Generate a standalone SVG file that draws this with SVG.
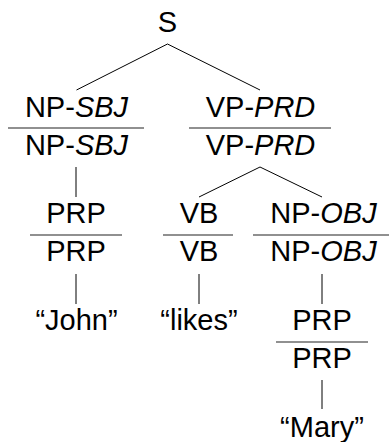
<svg xmlns="http://www.w3.org/2000/svg" width="389" height="442" viewBox="0 0 389 442">
  <style>
    text { font-family: "Liberation Sans", Arial, Helvetica, sans-serif; font-size: 29px; fill: #000; text-anchor: middle; }
    .i { font-style: italic; }
    line { stroke: #000; stroke-width: 1; }
    .bar { stroke: #222; stroke-width: 1.2; }
  </style>
  <rect width="389" height="442" fill="#fff"/>
  <g id="connectors">
    <line x1="167.5" y1="44" x2="76.5" y2="90"/>
    <line x1="167.5" y1="44" x2="260" y2="90"/>
    <line x1="76" y1="167" x2="76" y2="197"/>
    <line x1="260" y1="167" x2="199" y2="197"/>
    <line x1="260" y1="167" x2="322" y2="197"/>
    <line x1="76" y1="274" x2="76" y2="304"/>
    <line x1="199" y1="274" x2="199" y2="304"/>
    <line x1="322" y1="274" x2="322" y2="304"/>
    <line x1="322" y1="380" x2="322" y2="409"/>
  </g>
  <g id="S">
    <text x="167.5" y="31.5">S</text>
  </g>
  <g id="np-sbj">
    <text x="76.5" y="116.5">NP-<tspan class="i">SBJ</tspan></text>
    <line class="bar" x1="8" y1="128" x2="144" y2="128"/>
    <text x="76.5" y="155">NP-<tspan class="i">SBJ</tspan></text>
  </g>
  <g id="vp-prd">
    <text x="260.5" y="116.5">VP-<tspan class="i">PRD</tspan></text>
    <line class="bar" x1="189" y1="128" x2="331" y2="128"/>
    <text x="260.5" y="155">VP-<tspan class="i">PRD</tspan></text>
  </g>
  <g id="prp-1">
    <text x="76" y="223">PRP</text>
    <line class="bar" x1="30" y1="235" x2="122" y2="235"/>
    <text x="76" y="261">PRP</text>
  </g>
  <g id="vb">
    <text x="199" y="223">VB</text>
    <line class="bar" x1="163" y1="235" x2="233" y2="235"/>
    <text x="199" y="261">VB</text>
  </g>
  <g id="np-obj">
    <text x="323.5" y="223">NP-<tspan class="i">OBJ</tspan></text>
    <line class="bar" x1="253" y1="235" x2="389" y2="235"/>
    <text x="323.5" y="261">NP-<tspan class="i">OBJ</tspan></text>
  </g>
  <g id="john">
    <text x="76.5" y="330">“John”</text>
  </g>
  <g id="likes">
    <text x="199" y="330">“likes”</text>
  </g>
  <g id="prp-2">
    <text x="322" y="330">PRP</text>
    <line class="bar" x1="276" y1="342" x2="368" y2="342"/>
    <text x="322" y="368">PRP</text>
  </g>
  <g id="mary">
    <text x="322" y="436.5">“Mary”</text>
  </g>
</svg>
